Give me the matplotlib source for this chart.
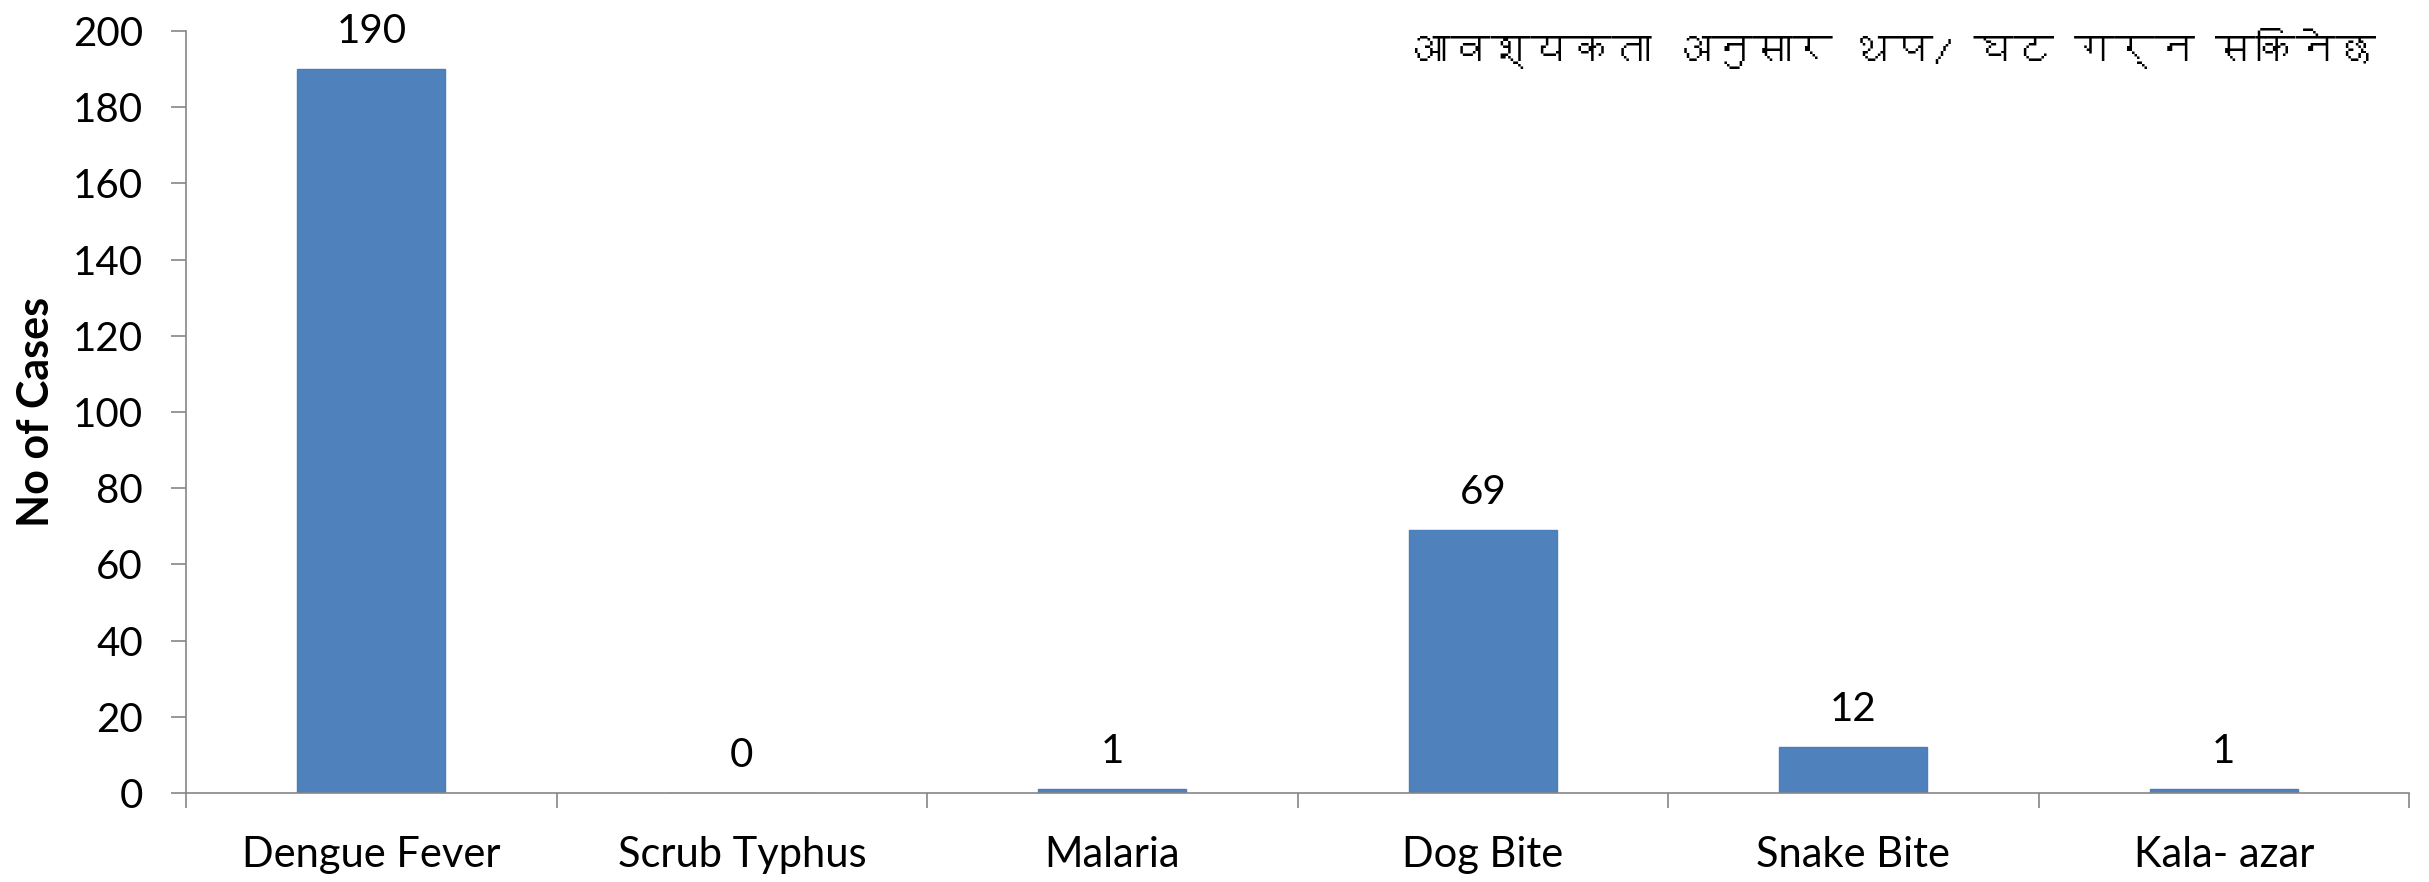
import numpy as np
import matplotlib
matplotlib.use("Agg")
import matplotlib.pyplot as plt
from matplotlib import font_manager
from matplotlib.ft2font import FT2Font

# Data
categories = ["Dengue Fever", "Scrub Typhus", "Malaria", "Dog Bite", "Snake Bite", "Kala- azar"]
cases = [190, 0, 1, 69, 12, 1]
yticks = [0, 20, 40, 60, 80, 100, 120, 140, 160, 180, 200]
note = "आवश्यकता अनुसार थप/ घट गर्न सकिनेछ"

# look for a font with Devanagari glyphs
deva_family = None
for f in font_manager.fontManager.ttflist:
    try:
        if 0x0906 in FT2Font(f.fname).get_charmap():
            deva_family = f.name
            break
    except Exception:
        pass

base = ["Lato", "DejaVu Sans"]
plt.rcParams['font.family'] = base
note_family = [deva_family] + base if deva_family else base

fig = plt.figure(figsize=(24.29, 8.82), dpi=100)
ax = fig.add_axes([0.0766, 0.1009, 0.9152, 0.864])

x = np.arange(len(categories))
bars = ax.bar(x, cases, width=0.4, color="#4F81BD", edgecolor="#4A7EBB", linewidth=1)

for xi, v in zip(x, cases):
    ax.text(xi, v + 5, str(v), ha="center", va="bottom", fontsize=29)

ax.set_xlim(-0.5, len(categories) - 0.5)
ax.set_ylim(0, 200)
ax.set_yticks(yticks)
ax.set_yticklabels([str(t) for t in yticks], fontsize=29)
ax.set_xticks(x)
ax.set_xticklabels(categories, fontsize=30)
ax.set_xticks(np.arange(len(categories) + 1) - 0.5, minor=True)

ax.tick_params(axis="x", which="major", length=0, pad=31)
ax.tick_params(axis="x", which="minor", length=11, color="#868686", width=1.2)
ax.tick_params(axis="y", length=11, color="#868686", width=1.2, pad=20)

for s in ["top", "right"]:
    ax.spines[s].set_visible(False)
for s in ["left", "bottom"]:
    ax.spines[s].set_color("#868686")
    ax.spines[s].set_linewidth(1.2)

ax.set_ylabel("No of Cases", fontsize=31, fontweight="bold", labelpad=12)

fig.text(0.978, 0.945, note, ha="right", va="center", fontsize=29, family=note_family)

fig.savefig("out.png", dpi=100)
